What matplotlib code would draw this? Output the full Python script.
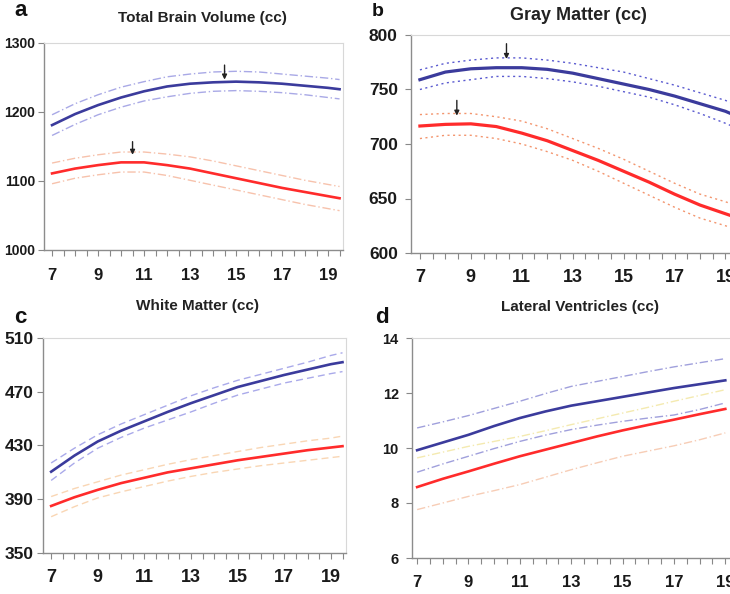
import matplotlib.pyplot as plt
import numpy as np

plt.rcParams['font.family'] = ['Liberation Sans', 'DejaVu Sans']

W, H = 730, 594

# ages (years)
ages = [7, 8, 9, 10, 11, 12, 13, 14, 15, 16, 17, 18, 19, 19.5]
ages_d = [7, 8, 9, 10, 11, 12, 13, 14, 15, 16, 17, 18, 19]

# a: total brain volume
tbv_m_mean = [1181, 1197, 1210, 1221, 1230, 1237, 1241, 1243, 1244, 1243, 1241, 1238, 1235, 1233]
tbv_m_hi = [1196, 1212, 1225, 1236, 1244, 1251, 1255, 1258, 1259, 1258, 1255, 1252, 1249, 1247]
tbv_m_lo = [1166, 1182, 1196, 1207, 1216, 1222, 1227, 1230, 1231, 1230, 1228, 1225, 1221, 1219]
tbv_f_mean = [1111, 1118, 1123, 1127, 1127, 1123, 1118, 1111, 1104, 1097, 1090, 1084, 1078, 1075]
tbv_f_hi = [1126, 1133, 1138, 1142, 1142, 1139, 1135, 1129, 1122, 1115, 1108, 1101, 1095, 1092]
tbv_f_lo = [1096, 1104, 1109, 1113, 1113, 1108, 1101, 1094, 1087, 1080, 1073, 1066, 1060, 1057]

# b: gray matter
gm_m_mean = [759, 766, 769, 770, 770, 768.5, 765, 760, 755, 750, 744, 737, 730, 725]
gm_m_hi = [768, 774, 777, 779, 779, 777, 774, 770, 766, 760, 754, 747, 740, 735]
gm_m_lo = [750, 756, 759, 762, 762, 760, 757, 753, 748, 743, 736, 728, 719, 714]
gm_f_mean = [716.5, 718, 718.5, 716, 710, 703, 694, 685, 675, 665, 654, 644, 636, 632]
gm_f_hi = [727, 728, 728, 725, 721, 714, 705, 696, 686, 675, 664, 654, 647, 643]
gm_f_lo = [705, 708, 708, 705, 700, 693, 685, 675, 664, 653, 642, 632, 625, 621]

# c: white matter
wm_m_mean = [410.5, 422.5, 433, 441, 448, 455, 461.5, 467.5, 473.5, 478, 482.5, 486.5, 490.5, 492]
wm_m_hi = [417, 428, 438, 446, 453, 460, 467, 473, 478.5, 483, 487.5, 492, 497, 499]
wm_m_lo = [404, 417, 428, 436, 443, 449, 455, 461.5, 467.5, 472, 476.5, 480, 483.5, 485]
wm_f_mean = [385, 391.5, 397, 402, 406, 410, 413, 416, 419, 421.5, 424, 426.5, 428.5, 429.5]
wm_f_hi = [392, 398, 403, 408, 412, 416, 419.5, 422.5, 425.5, 428.5, 431, 433.5, 435.5, 437]
wm_f_lo = [377, 384.5, 391, 395.5, 399.5, 403.5, 407, 410, 412.5, 415, 417, 419, 421, 422]

# d: lateral ventricles
lv_m_mean = [9.92, 10.2, 10.48, 10.8, 11.09, 11.33, 11.54, 11.7, 11.86, 12.02, 12.18, 12.32, 12.46]
lv_m_hi = [10.73, 10.95, 11.18, 11.44, 11.7, 11.98, 12.24, 12.42, 12.6, 12.78, 12.95, 13.1, 13.25]
lv_m_lo = [9.12, 9.42, 9.7, 9.98, 10.24, 10.47, 10.67, 10.83, 10.97, 11.09, 11.2, 11.4, 11.64]
lv_f_mean = [8.58, 8.88, 9.15, 9.43, 9.7, 9.94, 10.18, 10.42, 10.64, 10.84, 11.03, 11.23, 11.42]
lv_f_hi = [9.64, 9.85, 10.06, 10.24, 10.42, 10.63, 10.85, 11.06, 11.27, 11.48, 11.7, 11.91, 12.12]
lv_f_lo = [7.76, 8.0, 8.24, 8.45, 8.67, 8.94, 9.21, 9.46, 9.7, 9.89, 10.08, 10.3, 10.55]

# peak arrows: (age, arrow start, arrow tip)
arrows_a = [(14.5, 1268, 1247), (10.5, 1157, 1138)]
arrows_b = [(10.4, 792, 778), (8.45, 740, 726)]

titles = ['Total Brain Volume (cc)', 'Gray Matter (cc)', 'White Matter (cc)', 'Lateral Ventricles (cc)']
letters = ['a', 'b', 'c', 'd']

BLUE = '#3b3b9c'
RED = '#ff2b2b'


def px_rect(left, top, right, bottom):
    return [left / W, 1 - bottom / H, (right - left) / W, (bottom - top) / H]


fig = plt.figure(figsize=(W / 100, H / 100), dpi=100)


def setup(ax, xlim, ylim, yticks, xsize, ysize, xpad, ypad):
    ax.set_xlim(*xlim)
    ax.set_ylim(*ylim)
    ax.set_xticks(np.arange(7, 20, 2))
    ax.set_xticks(np.arange(7, 20, 0.5), minor=True)
    ax.set_yticks(yticks)
    ax.tick_params(axis='both', which='both', direction='out', length=4.5, width=0.8,
                   color='#888888')
    ax.tick_params(axis='x', which='major', labelsize=xsize, pad=xpad)
    ax.tick_params(axis='y', which='major', labelsize=ysize, pad=ypad)
    for lab in ax.get_xticklabels() + ax.get_yticklabels():
        lab.set_fontweight('bold')
        lab.set_color('#1a1a1a')
    for side in ['left', 'bottom']:
        ax.spines[side].set_color('#8c8c8c')
        ax.spines[side].set_linewidth(1.0)
    for side in ['top', 'right']:
        ax.spines[side].set_color('#d8d8d8')
        ax.spines[side].set_linewidth(0.8)


def draw(ax, x, mean_m, hi_m, lo_m, mean_f, hi_f, lo_f, ci_m, ci_f, ls, lw=1.9, ci_f_lo=None):
    if ci_f_lo is None:
        ci_f_lo = ci_f
    ax.plot(x, hi_m, color=ci_m, lw=1.0, ls=ls)
    ax.plot(x, lo_m, color=ci_m, lw=1.0, ls=ls)
    ax.plot(x, hi_f, color=ci_f, lw=1.0, ls=ls)
    ax.plot(x, lo_f, color=ci_f_lo, lw=1.0, ls=ls)
    ax.plot(x, mean_m, color=BLUE, lw=lw)
    ax.plot(x, mean_f, color=RED, lw=lw)


def arrows(ax, items):
    for xa, y0, y1 in items:
        ax.annotate('', xy=(xa, y1), xytext=(xa, y0),
                    arrowprops=dict(arrowstyle='-|>', color='#222222', lw=1.0,
                                    mutation_scale=7, shrinkA=0, shrinkB=0))


# a
ax_a = fig.add_axes(px_rect(44, 43, 343, 250))
setup(ax_a, (6.65, 19.65), (1000, 1300), [1000, 1100, 1200, 1300], 12, 10, 8.5, 2)
draw(ax_a, ages, tbv_m_mean, tbv_m_hi, tbv_m_lo, tbv_f_mean, tbv_f_hi, tbv_f_lo,
     '#a9a9e6', '#f7c2ac', (0, (6, 2, 1, 2)))
arrows(ax_a, arrows_a)

# b
ax_b = fig.add_axes(px_rect(411, 35, 742, 253))
setup(ax_b, (6.65, 19.65), (600, 800), [600, 650, 700, 750, 800], 13, 12.5, 7, 5)
draw(ax_b, ages, gm_m_mean, gm_m_hi, gm_m_lo, gm_f_mean, gm_f_hi, gm_f_lo,
     '#5a5ad0', '#f3956e', (0, (1.5, 2.5)), lw=2.3)
arrows(ax_b, arrows_b)

# c
ax_c = fig.add_axes(px_rect(43, 338, 346, 553))
setup(ax_c, (6.65, 19.65), (350, 510), [350, 390, 430, 470, 510], 13, 12.5, 7, 2)
draw(ax_c, ages, wm_m_mean, wm_m_hi, wm_m_lo, wm_f_mean, wm_f_hi, wm_f_lo,
     '#aaaaea', '#f9d6b4', (0, (5, 3)))

# d
ax_d = fig.add_axes(px_rect(412, 338, 742, 558))
setup(ax_d, (6.8, 19.65), (6, 14), [6, 8, 10, 12, 14], 12, 10.5, 8, 5)
draw(ax_d, ages_d, lv_m_mean, lv_m_hi, lv_m_lo, lv_f_mean, lv_f_hi, lv_f_lo,
     '#a0a0dc', '#f4eab0', (0, (6, 2, 1, 2)), ci_f_lo='#f7cdb6')

# titles and panel letters
title_pos = [(202, 18), (578, 16), (197, 306), (580, 307)]
title_size = [11, 13, 11, 11]
letter_pos = [(14, 16), (372, 16), (14, 323), (375, 323)]
letter_size = [16, 14, 16, 16]
for t, (tx, ty), fs in zip(titles, title_pos, title_size):
    fig.text(tx / W, 1 - ty / H, t, ha='center', va='center', fontsize=fs,
             fontweight='bold', color='#222222')
for l, (lx, ly), fs in zip(letters, letter_pos, letter_size):
    fig.text(lx / W, 1 - ly / H, l, ha='left', va='baseline', fontsize=fs,
             fontweight='bold', color='#111111')

fig.savefig('out.png', dpi=100)
